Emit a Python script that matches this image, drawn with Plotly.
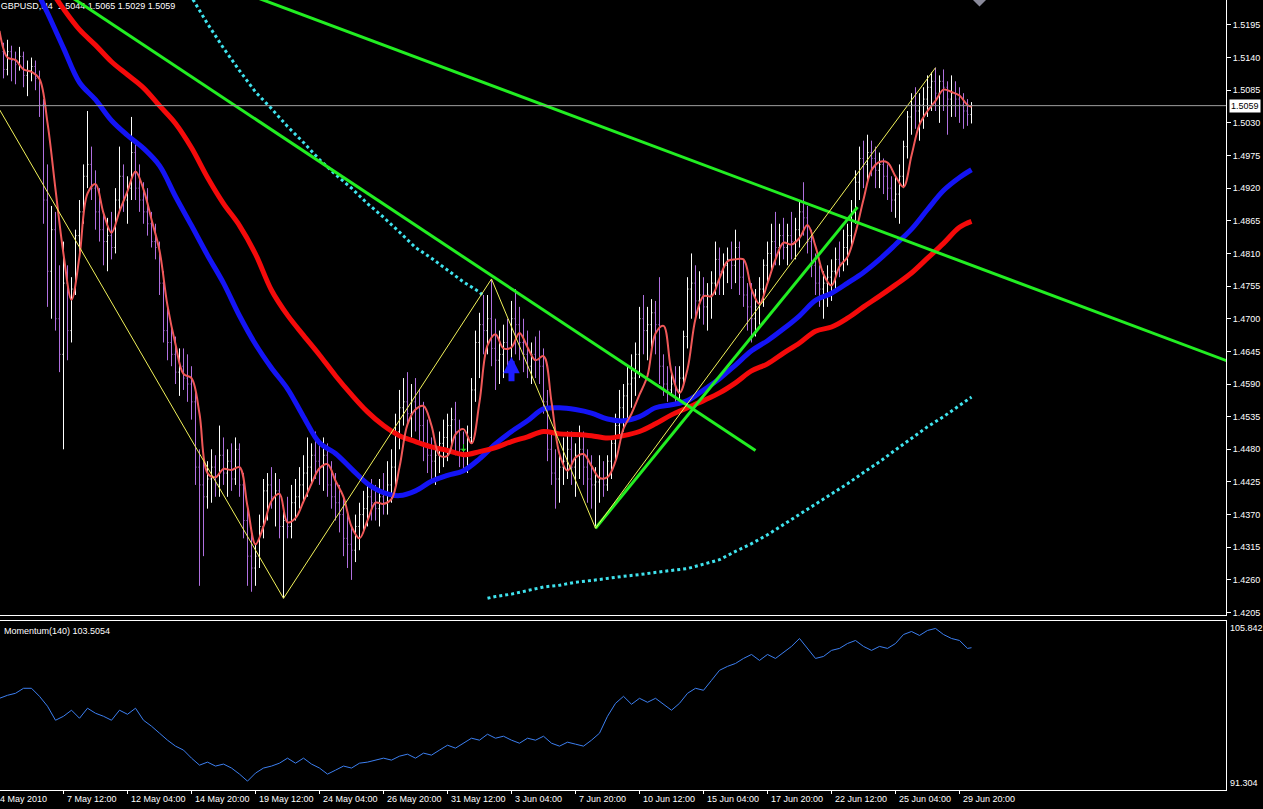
import plotly.graph_objects as go

# H4 bars, index 0 = 7 May 2010 12:00, one bar every 4 hours
first_bar = -15

bar_open = [
    1.5150, 1.5120, 1.5150, 1.5135, 1.5128, 1.5142, 1.5110, 1.5118, 1.5125, 1.5105,
    1.5060, 1.4900, 1.4780, 1.4850, 1.4700, 1.4640, 1.4760, 1.4680, 1.4750, 1.4840,
    1.4880, 1.4940, 1.4960, 1.4920, 1.4880, 1.4850, 1.4830, 1.4840, 1.4820, 1.4900,
    1.4940, 1.4900, 1.4920, 1.4980, 1.4920, 1.4900, 1.4880, 1.4860, 1.4830, 1.4820,
    1.4760, 1.4680, 1.4660, 1.4640, 1.4610, 1.4620, 1.4600, 1.4590, 1.4560, 1.4450,
    1.4420, 1.4400, 1.4430, 1.4450, 1.4420, 1.4470, 1.4440, 1.4460, 1.4430, 1.4480,
    1.4420, 1.4360, 1.4300, 1.4280, 1.4300, 1.4350, 1.4410, 1.4420, 1.4400, 1.4410,
    1.4350, 1.4360, 1.4350, 1.4390, 1.4400, 1.4420, 1.4440, 1.4450, 1.4470, 1.4460,
    1.4450, 1.4470, 1.4420, 1.4400, 1.4390, 1.4370, 1.4330, 1.4320, 1.4310, 1.4350,
    1.4370, 1.4380, 1.4400, 1.4390, 1.4380, 1.4400, 1.4390, 1.4420, 1.4450, 1.4510,
    1.4550, 1.4560, 1.4540, 1.4560, 1.4550, 1.4520, 1.4490, 1.4470, 1.4460, 1.4470,
    1.4490, 1.4500, 1.4520, 1.4530, 1.4510, 1.4480, 1.4470, 1.4500, 1.4580, 1.4660,
    1.4690, 1.4680, 1.4700, 1.4650, 1.4630, 1.4640, 1.4660, 1.4650, 1.4700, 1.4690,
    1.4660, 1.4640, 1.4620, 1.4640, 1.4630, 1.4620, 1.4560, 1.4480, 1.4440, 1.4430,
    1.4450, 1.4460, 1.4480, 1.4450, 1.4470, 1.4480, 1.4450, 1.4430, 1.4420, 1.4425,
    1.4430, 1.4420, 1.4460, 1.4490, 1.4520, 1.4550, 1.4570, 1.4590, 1.4600, 1.4640,
    1.4700, 1.4680, 1.4690, 1.4710, 1.4690, 1.4620, 1.4590, 1.4580, 1.4590, 1.4580,
    1.4600, 1.4670, 1.4750, 1.4760, 1.4730, 1.4740, 1.4720, 1.4740, 1.4760, 1.4800,
    1.4780, 1.4790, 1.4800, 1.4790, 1.4820, 1.4770, 1.4740, 1.4720, 1.4700, 1.4720,
    1.4750, 1.4790, 1.4810, 1.4830, 1.4820, 1.4840, 1.4820, 1.4840, 1.4830, 1.4850,
    1.4880, 1.4870, 1.4830, 1.4790, 1.4760, 1.4750, 1.4760, 1.4770, 1.4780, 1.4800,
    1.4795, 1.4820, 1.4840, 1.4880, 1.4930, 1.4970, 1.4960, 1.4980, 1.4970, 1.4950,
    1.4960, 1.4940, 1.4920, 1.4900, 1.4910, 1.4940, 1.4990, 1.5040, 1.5060, 1.5050,
    1.5060, 1.5070, 1.5090, 1.5100, 1.5080, 1.5100, 1.5090, 1.5070, 1.5080, 1.5070,
    1.5060, 1.5050, 1.5044,
]
bar_high = [
    1.5165, 1.5170, 1.5160, 1.5150, 1.5158, 1.5150, 1.5135, 1.5140, 1.5135, 1.5118,
    1.5070, 1.4960, 1.4890, 1.4880, 1.4790, 1.4830, 1.4790, 1.4770, 1.4850, 1.4900,
    1.4960, 1.5050, 1.4990, 1.4950, 1.4920, 1.4880, 1.4870, 1.4880, 1.4920, 1.4990,
    1.4960, 1.4940, 1.5040, 1.5000, 1.4960, 1.4930, 1.4920, 1.4880, 1.4860, 1.4830,
    1.4780, 1.4720, 1.4690, 1.4670, 1.4650, 1.4650, 1.4640, 1.4620, 1.4580, 1.4480,
    1.4460, 1.4460, 1.4480, 1.4470, 1.4520, 1.4500, 1.4480, 1.4490, 1.4500, 1.4490,
    1.4440, 1.4380, 1.4340, 1.4320, 1.4370, 1.4430, 1.4440, 1.4450, 1.4440, 1.4430,
    1.4380, 1.4400, 1.4420, 1.4430, 1.4450, 1.4470, 1.4500, 1.4490, 1.4510, 1.4490,
    1.4500, 1.4490, 1.4460, 1.4440, 1.4420, 1.4400, 1.4370, 1.4350, 1.4370, 1.4390,
    1.4410, 1.4420, 1.4430, 1.4420, 1.4430, 1.4440, 1.4460, 1.4480, 1.4540, 1.4580,
    1.4600, 1.4610, 1.4590, 1.4600, 1.4580, 1.4560, 1.4530, 1.4500, 1.4490, 1.4510,
    1.4530, 1.4540, 1.4550, 1.4560, 1.4530, 1.4510, 1.4520, 1.4600, 1.4680, 1.4710,
    1.4740, 1.4740, 1.4767, 1.4700, 1.4680, 1.4690, 1.4700, 1.4730, 1.4750, 1.4720,
    1.4700, 1.4680, 1.4660, 1.4670, 1.4680, 1.4650, 1.4580, 1.4510, 1.4480, 1.4470,
    1.4500, 1.4510, 1.4510, 1.4490, 1.4520, 1.4510, 1.4480, 1.4470, 1.4450, 1.4470,
    1.4460, 1.4470, 1.4500, 1.4540, 1.4580, 1.4590, 1.4620, 1.4640, 1.4660, 1.4720,
    1.4740, 1.4720, 1.4733, 1.4730, 1.4770, 1.4640, 1.4620, 1.4610, 1.4620, 1.4620,
    1.4680, 1.4770, 1.4810, 1.4790, 1.4780, 1.4770, 1.4760, 1.4780, 1.4830, 1.4820,
    1.4810, 1.4820, 1.4830, 1.4850, 1.4830, 1.4800, 1.4760, 1.4760, 1.4750, 1.4770,
    1.4800, 1.4830, 1.4860, 1.4880, 1.4860, 1.4870, 1.4860, 1.4880, 1.4870, 1.4900,
    1.4930, 1.4890, 1.4850, 1.4810, 1.4790, 1.4780, 1.4790, 1.4800, 1.4820, 1.4830,
    1.4850, 1.4860, 1.4900, 1.4950, 1.4990, 1.5000, 1.5010, 1.5000, 1.4990, 1.4980,
    1.4970, 1.4960, 1.4940, 1.4940, 1.4960, 1.5000, 1.5050, 1.5080, 1.5090, 1.5080,
    1.5090, 1.5110, 1.5115, 1.5123, 1.5110, 1.5120, 1.5100, 1.5110, 1.5100, 1.5090,
    1.5080, 1.5070, 1.5065,
]
bar_low = [
    1.5105, 1.5110, 1.5100, 1.5095, 1.5118, 1.5090, 1.5075, 1.5100, 1.5085, 1.5040,
    1.4860, 1.4720, 1.4700, 1.4680, 1.4610, 1.4480, 1.4630, 1.4660, 1.4740, 1.4800,
    1.4860, 1.4920, 1.4900, 1.4850, 1.4830, 1.4790, 1.4780, 1.4800, 1.4810, 1.4880,
    1.4880, 1.4860, 1.4900, 1.4900, 1.4880, 1.4860, 1.4840, 1.4820, 1.4800, 1.4740,
    1.4660, 1.4630, 1.4620, 1.4590, 1.4570, 1.4580, 1.4560, 1.4530, 1.4420, 1.4250,
    1.4300, 1.4380, 1.4390, 1.4400, 1.4400, 1.4420, 1.4400, 1.4410, 1.4420, 1.4400,
    1.4330, 1.4250, 1.4240, 1.4250, 1.4280, 1.4330, 1.4360, 1.4380, 1.4350, 1.4330,
    1.4229, 1.4330, 1.4330, 1.4360, 1.4380, 1.4390, 1.4400, 1.4420, 1.4430, 1.4420,
    1.4410, 1.4400, 1.4380, 1.4360, 1.4340, 1.4300, 1.4280, 1.4260, 1.4290, 1.4310,
    1.4340, 1.4350, 1.4360, 1.4360, 1.4350, 1.4370, 1.4370, 1.4390, 1.4420, 1.4480,
    1.4520, 1.4520, 1.4500, 1.4510, 1.4490, 1.4460, 1.4440, 1.4430, 1.4420, 1.4440,
    1.4450, 1.4460, 1.4480, 1.4470, 1.4450, 1.4440, 1.4440, 1.4490, 1.4560, 1.4600,
    1.4640, 1.4640, 1.4620, 1.4580, 1.4590, 1.4600, 1.4610, 1.4630, 1.4640, 1.4630,
    1.4610, 1.4600, 1.4590, 1.4600, 1.4590, 1.4540, 1.4460, 1.4420, 1.4380, 1.4390,
    1.4420, 1.4430, 1.4420, 1.4400, 1.4430, 1.4420, 1.4390, 1.4380, 1.4347, 1.4390,
    1.4400, 1.4410, 1.4430, 1.4460, 1.4500, 1.4510, 1.4530, 1.4550, 1.4570, 1.4600,
    1.4640, 1.4630, 1.4640, 1.4640, 1.4590, 1.4570, 1.4560, 1.4570, 1.4560, 1.4565,
    1.4590, 1.4650, 1.4700, 1.4700, 1.4700, 1.4690, 1.4680, 1.4700, 1.4740, 1.4740,
    1.4740, 1.4760, 1.4750, 1.4760, 1.4740, 1.4720, 1.4680, 1.4660, 1.4670, 1.4690,
    1.4720, 1.4760, 1.4780, 1.4790, 1.4790, 1.4800, 1.4790, 1.4800, 1.4800, 1.4820,
    1.4840, 1.4810, 1.4770, 1.4740, 1.4720, 1.4700, 1.4720, 1.4730, 1.4750, 1.4770,
    1.4780, 1.4790, 1.4820, 1.4860, 1.4900, 1.4920, 1.4930, 1.4940, 1.4920, 1.4920,
    1.4910, 1.4900, 1.4880, 1.4870, 1.4860, 1.4920, 1.4970, 1.5010, 1.5020, 1.5000,
    1.5020, 1.5040, 1.5050, 1.5050, 1.5030, 1.5050, 1.5010, 1.5040, 1.5040, 1.5030,
    1.5020, 1.5025, 1.5029,
]
bar_close = [
    1.5120, 1.5150, 1.5135, 1.5128, 1.5142, 1.5110, 1.5118, 1.5125, 1.5105, 1.5060,
    1.4900, 1.4780, 1.4850, 1.4700, 1.4640, 1.4760, 1.4680, 1.4750, 1.4840, 1.4880,
    1.4940, 1.4960, 1.4920, 1.4880, 1.4850, 1.4830, 1.4840, 1.4820, 1.4900, 1.4940,
    1.4900, 1.4920, 1.4980, 1.4920, 1.4900, 1.4880, 1.4860, 1.4830, 1.4820, 1.4760,
    1.4680, 1.4660, 1.4640, 1.4610, 1.4620, 1.4600, 1.4590, 1.4560, 1.4450, 1.4420,
    1.4400, 1.4430, 1.4450, 1.4420, 1.4470, 1.4440, 1.4460, 1.4430, 1.4480, 1.4420,
    1.4360, 1.4300, 1.4280, 1.4300, 1.4350, 1.4410, 1.4420, 1.4400, 1.4410, 1.4350,
    1.4360, 1.4350, 1.4390, 1.4400, 1.4420, 1.4440, 1.4450, 1.4470, 1.4460, 1.4450,
    1.4470, 1.4420, 1.4400, 1.4390, 1.4370, 1.4330, 1.4320, 1.4310, 1.4350, 1.4370,
    1.4380, 1.4400, 1.4390, 1.4380, 1.4400, 1.4390, 1.4420, 1.4450, 1.4510, 1.4550,
    1.4560, 1.4540, 1.4560, 1.4550, 1.4520, 1.4490, 1.4470, 1.4460, 1.4470, 1.4490,
    1.4500, 1.4520, 1.4530, 1.4510, 1.4480, 1.4470, 1.4500, 1.4580, 1.4660, 1.4690,
    1.4680, 1.4700, 1.4650, 1.4630, 1.4640, 1.4660, 1.4650, 1.4700, 1.4690, 1.4660,
    1.4640, 1.4620, 1.4640, 1.4630, 1.4620, 1.4560, 1.4480, 1.4440, 1.4430, 1.4450,
    1.4460, 1.4480, 1.4450, 1.4470, 1.4480, 1.4450, 1.4430, 1.4420, 1.4425, 1.4430,
    1.4420, 1.4460, 1.4490, 1.4520, 1.4550, 1.4570, 1.4590, 1.4600, 1.4640, 1.4700,
    1.4680, 1.4690, 1.4710, 1.4690, 1.4620, 1.4590, 1.4580, 1.4590, 1.4580, 1.4600,
    1.4670, 1.4750, 1.4760, 1.4730, 1.4740, 1.4720, 1.4740, 1.4760, 1.4800, 1.4780,
    1.4790, 1.4800, 1.4790, 1.4820, 1.4770, 1.4740, 1.4720, 1.4700, 1.4720, 1.4750,
    1.4790, 1.4810, 1.4830, 1.4820, 1.4840, 1.4820, 1.4840, 1.4830, 1.4850, 1.4880,
    1.4870, 1.4830, 1.4790, 1.4760, 1.4750, 1.4760, 1.4770, 1.4780, 1.4800, 1.4795,
    1.4820, 1.4840, 1.4880, 1.4930, 1.4970, 1.4960, 1.4980, 1.4970, 1.4950, 1.4960,
    1.4940, 1.4920, 1.4900, 1.4910, 1.4940, 1.4990, 1.5040, 1.5060, 1.5050, 1.5060,
    1.5070, 1.5090, 1.5100, 1.5080, 1.5100, 1.5090, 1.5070, 1.5080, 1.5070, 1.5060,
    1.5050, 1.5044, 1.5059,
]

# short MA (thin red), read every 2 bars from -16
fast_ma = [
    1.5185, 1.5140, 1.5136, 1.5120, 1.5116, 1.5104, 1.5030, 1.4918, 1.4809, 1.4732,
    1.4805, 1.4911, 1.4927, 1.4878, 1.4845, 1.4881, 1.4915, 1.4948, 1.4918, 1.4867,
    1.4815, 1.4722, 1.4657, 1.4607, 1.4600, 1.4540, 1.4440, 1.4433, 1.4447, 1.4445,
    1.4450, 1.4384, 1.4320, 1.4350, 1.4393, 1.4405, 1.4357, 1.4364, 1.4392, 1.4422,
    1.4448, 1.4455, 1.4427, 1.4400, 1.4350, 1.4330, 1.4360, 1.4390, 1.4388, 1.4396,
    1.4450, 1.4522, 1.4547, 1.4553, 1.4520, 1.4470, 1.4469, 1.4505, 1.4514, 1.4490,
    1.4560, 1.4655, 1.4674, 1.4650, 1.4652, 1.4676, 1.4652, 1.4630, 1.4637, 1.4560,
    1.4472, 1.4444, 1.4466, 1.4472, 1.4452, 1.4432, 1.4433, 1.4460, 1.4515, 1.4540,
    1.4572, 1.4604, 1.4675, 1.4688, 1.4610, 1.4575, 1.4615, 1.4700, 1.4738, 1.4738,
    1.4768, 1.4797, 1.4800, 1.4800, 1.4750, 1.4725, 1.4760, 1.4800, 1.4828, 1.4825,
    1.4836, 1.4858, 1.4822, 1.4775, 1.4756, 1.4788, 1.4804, 1.4845, 1.4901, 1.4950,
    1.4964, 1.4963, 1.4940, 1.4922, 1.4975, 1.5027, 1.5050, 1.5067, 1.5086, 1.5082,
    1.5076, 1.5060, 1.5057,
]
fast_bars = list(range(-16, 227, 2)) + [227]

# long MAs, read every 4 bars from -16
blue_ma = [
    1.5392, 1.5329, 1.5271, 1.5215, 1.5156, 1.5098, 1.5069, 1.5034, 1.5009, 1.4987,
    1.4958, 1.4906, 1.4857, 1.4807, 1.4760, 1.4705, 1.4657, 1.4617, 1.4582, 1.4535,
    1.4491, 1.4473, 1.4447, 1.4422, 1.4407, 1.4402, 1.4410, 1.4426, 1.4436, 1.4444,
    1.4464, 1.4489, 1.4510, 1.4528, 1.4548, 1.4550, 1.4547, 1.4541, 1.4531, 1.4528,
    1.4535, 1.4550, 1.4555, 1.4562, 1.4580, 1.4599, 1.4622, 1.4646, 1.4663, 1.4683,
    1.4705, 1.4731, 1.4743, 1.4760, 1.4778, 1.4800, 1.4825, 1.4851, 1.4884, 1.4916,
    1.4938, 1.4951,
]
red_ma = [
    1.5383, 1.5343, 1.5303, 1.5262, 1.5222, 1.5187, 1.5161, 1.5133, 1.5111, 1.5089,
    1.5059, 1.5029, 1.4988, 1.4938, 1.4894, 1.4857, 1.4809, 1.4748, 1.4706, 1.4672,
    1.4639, 1.4604, 1.4572, 1.4543, 1.4520, 1.4503, 1.4493, 1.4484, 1.4478, 1.4471,
    1.4476, 1.4483, 1.4493, 1.4501, 1.4510, 1.4506, 1.4505, 1.4503, 1.4499, 1.4503,
    1.4510, 1.4523, 1.4538, 1.4550, 1.4562, 1.4575, 1.4592, 1.4612, 1.4624, 1.4642,
    1.4659, 1.4679, 1.4686, 1.4701, 1.4720, 1.4738, 1.4757, 1.4777, 1.4802, 1.4827,
    1.4854, 1.4864,
]
slow_bars = list(range(-16, 225, 4)) + [227]

# dotted cyan line, two pieces
cyan_hi = [
    1.5279, 1.5242, 1.5197, 1.5156, 1.5118, 1.5082, 1.5054, 1.5024, 1.4997, 1.4968,
    1.4943, 1.4920, 1.4894, 1.4871, 1.4846, 1.4820, 1.4802, 1.4782, 1.4762, 1.4745,
    1.4738,
]
cyan_hi_bars = list(range(28, 105, 4)) + [105]
cyan_lo = [
    1.4229, 1.4232, 1.4236, 1.4242, 1.4248, 1.4251, 1.4256, 1.4259, 1.4263, 1.4266,
    1.4269, 1.4273, 1.4276, 1.4279, 1.4286, 1.4294, 1.4308, 1.4321, 1.4336, 1.4353,
    1.4370, 1.4387, 1.4404, 1.4422, 1.4441, 1.4459, 1.4479, 1.4498, 1.4518, 1.4535,
    1.4553, 1.4568,
]
cyan_lo_bars = [106, 108] + list(range(112, 225, 4)) + [227]

# zigzag pivots (bar, price)
zz_bars = [-17, 55, 107, 133, 218]
zz_price = [1.5064, 1.4229, 1.4767, 1.4347, 1.5123]

# trend lines: two anchors each (bar, price)
trend_lines = [
    ([40, 300], [1.5262, 1.4606]),
    ([-5, 173], [1.5273, 1.4478]),
    ([133, 198.5], [1.4347, 1.4888]),
]

# momentum(140), every 2 bars from -16
momentum = [
    99.17, 99.43, 99.60, 100.03, 100.03, 99.34, 98.49, 97.29, 97.63, 98.15,
    97.46, 98.32, 97.89, 97.63, 97.29, 98.15, 97.80, 98.32, 97.29, 96.78,
    96.18, 95.58, 95.07, 94.73, 94.04, 93.44, 93.70, 93.36, 93.53, 93.19,
    92.67, 92.07, 92.76, 93.19, 93.36, 93.61, 94.04, 93.61, 94.04, 93.53,
    93.19, 92.67, 93.01, 93.36, 93.19, 93.61, 93.70, 93.87, 94.04, 93.87,
    94.21, 94.38, 94.04, 94.47, 94.30, 94.73, 95.15, 94.90, 95.32, 95.75,
    95.58, 96.09, 95.75, 95.92, 95.58, 95.32, 95.75, 95.58, 95.92, 95.32,
    95.07, 95.41, 95.24, 95.07, 95.58, 96.18, 97.63, 98.74, 99.34, 98.66,
    99.17, 98.83, 99.17, 98.66, 98.15, 98.74, 99.60, 100.03, 99.86, 100.71,
    101.57, 101.91, 102.16, 102.59, 102.93, 102.42, 102.93, 102.59, 103.10, 103.62,
    104.30, 103.45, 102.59, 102.76, 103.28, 103.45, 103.87, 104.13, 103.62, 103.28,
    103.62, 103.45, 103.87, 104.64, 104.90, 104.56, 104.99, 105.16, 104.64, 104.30,
    104.13, 103.45, 103.51,
]
mom_bars = list(range(-16, 227, 2)) + [227]

price_ticks = [1.4205, 1.4260, 1.4315, 1.4370, 1.4425, 1.4480, 1.4535, 1.4590, 1.4645, 1.4700,
               1.4755, 1.4810, 1.4865, 1.4920, 1.4975, 1.5030, 1.5085, 1.5140, 1.5195]
time_ticks = [0, 16, 32, 48, 64, 80, 96, 112, 128, 144, 160, 176, 192, 208, 224]
time_labels = ["7 May 12:00", "12 May 04:00", "14 May 20:00", "19 May 12:00", "24 May 04:00",
               "26 May 20:00", "31 May 12:00", "3 Jun 04:00", "7 Jun 20:00", "10 Jun 12:00",
               "15 Jun 04:00", "17 Jun 20:00", "22 Jun 12:00", "25 Jun 04:00", "29 Jun 20:00"]

last_price = 1.5059
mom_min, mom_max = 91.304, 105.842
arrow_bar, arrow_price = 112, 1.4636

bars = list(range(first_bar, first_bar + len(bar_close)))
# half-pixel shift so 1px bar strokes land on whole pixels
x_range = [-15.875, 290.625]
font = "Liberation Sans, Arial, sans-serif"

fig = go.Figure()

# chart caption goes under the lines, like in the terminal
fig.add_trace(go.Scatter(x=[-15.7], y=[1.5225], mode="text",
                         text=["GBPUSD,H4  1.5044 1.5065 1.5029 1.5059"],
                         textposition="middle right",
                         textfont=dict(color="white", size=9, family=font),
                         hoverinfo="skip"))

fig.add_trace(go.Ohlc(x=bars, open=bar_open, high=bar_high, low=bar_low, close=bar_close,
                      increasing=dict(line=dict(color="#FFFFFF", width=1)),
                      decreasing=dict(line=dict(color="#B070E0", width=1)),
                      tickwidth=0.25, hoverinfo="skip"))

fig.add_trace(go.Scatter(x=cyan_hi_bars, y=cyan_hi, mode="lines",
                         line=dict(color="#3FE3EE", width=3, dash="dot")))
fig.add_trace(go.Scatter(x=cyan_lo_bars, y=cyan_lo, mode="lines",
                         line=dict(color="#3FE3EE", width=3, dash="dot")))
fig.add_trace(go.Scatter(x=slow_bars, y=blue_ma, mode="lines", line_shape="spline",
                         line=dict(color="#1414F5", width=5)))
fig.add_trace(go.Scatter(x=slow_bars, y=red_ma, mode="lines", line_shape="spline",
                         line=dict(color="#F50A0A", width=5)))
fig.add_trace(go.Scatter(x=fast_bars, y=fast_ma, mode="lines", line_shape="spline",
                         line=dict(color="#F05858", width=2)))

for tx, ty in trend_lines:
    fig.add_trace(go.Scatter(x=tx, y=ty, mode="lines", line=dict(color="#22EE22", width=3)))

fig.add_trace(go.Scatter(x=zz_bars, y=zz_price, mode="lines", line=dict(color="#F2F25A", width=1)))

fig.add_trace(go.Scatter(x=x_range, y=[last_price, last_price], mode="lines",
                         line=dict(color="#A0A0A0", width=1)))

fig.add_trace(go.Scatter(x=[229], y=[1.5237], mode="markers",
                         marker=dict(symbol="diamond", size=10, color="#8A8A9A")))

fig.add_trace(go.Scatter(x=mom_bars, y=momentum, mode="lines", xaxis="x2", yaxis="y2",
                         line=dict(color="#3C7FF0", width=1)))

annotations = [
    dict(x=arrow_bar, y=arrow_price, xref="x", yref="y", text="", showarrow=True,
         ax=0, ay=26, arrowhead=2, arrowsize=0.55, arrowwidth=6, arrowcolor="#1E1EFF"),
    dict(x=100, y=1.4476, xref="x", yref="y", text="", showarrow=True,
         ax=0, ay=-9, arrowhead=1, arrowsize=1, arrowwidth=1, arrowcolor="#22DD22"),
    dict(x=0.9707, y=last_price, xref="paper", yref="y", xanchor="left", yanchor="middle",
         xshift=3, text="1.5059", showarrow=False, bgcolor="white", borderpad=1,
         font=dict(color="black", size=9, family=font)),
    dict(x=0.9707, y=mom_max, xref="paper", yref="y2", xanchor="left", yanchor="top",
         xshift=2, text="105.842", showarrow=False, font=dict(color="white", size=9, family=font)),
    dict(x=0.9707, y=mom_min, xref="paper", yref="y2", xanchor="left", yanchor="bottom",
         xshift=2, text="91.304", showarrow=False, font=dict(color="white", size=9, family=font)),
    dict(x=0, y=0.218, xref="paper", yref="paper", xanchor="left", yanchor="middle",
         xshift=2, text="Momentum(140) 103.5054", showarrow=False,
         font=dict(color="white", size=9, family=font)),
    dict(x=0, y=0.0105, xref="paper", yref="paper", xanchor="left", yanchor="middle",
         xshift=-2, text="4 May 2010", showarrow=False,
         font=dict(color="white", size=9, family=font)),
]
for tb, tl in zip(time_ticks, time_labels):
    annotations.append(dict(x=tb, y=0.0105, xref="x2", yref="paper", xanchor="left",
                            yanchor="middle", xshift=1, text=tl, showarrow=False,
                            font=dict(color="white", size=9, family=font)))

axis_common = dict(showgrid=False, zeroline=False, linecolor="white", linewidth=1)

fig.update_layout(
    width=1263, height=809,
    margin=dict(l=0, r=0, t=0, b=0),
    paper_bgcolor="black", plot_bgcolor="black",
    showlegend=False, hovermode=False,
    xaxis=dict(domain=[0, 0.9707], range=x_range, anchor="y", showline=True,
               showticklabels=False, ticks="", rangeslider=dict(visible=False), **axis_common),
    yaxis=dict(domain=[0.2373, 1], range=[1.4200, 1.5237], anchor="x", side="right",
               showline=True, ticks="outside", ticklen=4, tickcolor="white",
               tickvals=price_ticks, tickformat=".4f",
               tickfont=dict(color="white", size=9, family=font), **axis_common),
    xaxis2=dict(domain=[0, 0.9707], range=x_range, anchor="y2", showline=True, mirror=True,
                ticks="outside", ticklen=3, tickcolor="white", tickvals=time_ticks,
                showticklabels=False, **axis_common),
    yaxis2=dict(domain=[0.0210, 0.2311], range=[mom_min, mom_max], anchor="x2", side="right",
                showline=True, ticks="", showticklabels=False, **axis_common),
    annotations=annotations,
)

fig.write_html("out.html", config={"displayModeBar": False},
               post_script="document.body.style.margin='0';document.body.style.overflow='hidden';"
                           "document.body.style.background='black';")
